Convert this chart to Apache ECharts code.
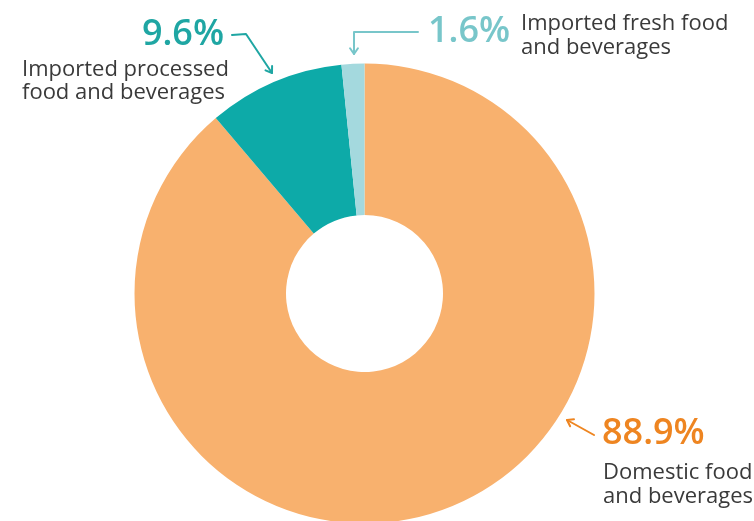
<!DOCTYPE html>
<html>
<head>
<meta charset="utf-8">
<script src="https://cdn.jsdelivr.net/npm/echarts@6/dist/echarts.min.js"></script>
<style>
  html, body { margin: 0; padding: 0; background: #ffffff; }
  #chart { width: 754px; height: 521px; }
</style>
</head>
<body>
<div id="chart"></div>
<script>
// Share of food and beverages by origin (percent)
const categories = [
  ['Domestic food', 'and beverages'],
  ['Imported processed', 'food and beverages'],
  ['Imported fresh food', 'and beverages']
];
const shares = [88.9, 9.6, 1.6];
const sliceColors = ['#F8B16E', '#0DAAA8', '#A4D9DE'];
const valueColors = ['#EE8521', '#1FA6A3', '#78C6CA'];

const FONT = '"Open Sans", "Noto Sans", sans-serif';
const pct = v => v.toFixed(1) + '%';

const chart = echarts.init(document.getElementById('chart'), null, { renderer: 'canvas' });

function txt(text, x, y, size, weight, color, align) {
  return {
    type: 'text', silent: true,
    style: {
      text: text, x: x, y: y,
      fontFamily: FONT, fontSize: size, fontWeight: weight,
      fill: color, textAlign: align || 'left', textVerticalAlign: 'middle'
    }
  };
}
function line(points, color) {
  return {
    type: 'polyline', silent: true,
    shape: { points: points },
    style: { stroke: color, lineWidth: 2, fill: null, lineCap: 'round', lineJoin: 'round' }
  };
}
// small open arrowhead at tip (tx,ty) pointing along the direction from (fx,fy)
function head(fx, fy, tx, ty, color) {
  const a = Math.atan2(ty - fy, tx - fx), L = 7, w = 0.6;
  return line([
    [tx - L * Math.cos(a - w), ty - L * Math.sin(a - w)],
    [tx, ty],
    [tx - L * Math.cos(a + w), ty - L * Math.sin(a + w)]
  ], color);
}

const labelSize = 22, valueSize = 36, valueWeight = 600, dark = '#3A3A3A';

const graphics = [
  // Imported processed
  txt(pct(shares[1]), 224, 35, valueSize, valueWeight, valueColors[1], 'right'),
  txt(categories[1][0], 22, 70, labelSize, 'normal', dark),
  txt(categories[1][1], 22, 93, labelSize, 'normal', dark),
  line([[232, 35], [246, 34], [272, 73]], valueColors[1]),
  head(246, 34, 272, 73, valueColors[1]),
  // Imported fresh
  txt(pct(shares[2]), 428, 32, valueSize, valueWeight, valueColors[2]),
  txt(categories[2][0], 521, 24, labelSize, 'normal', dark),
  txt(categories[2][1], 521, 48, labelSize, 'normal', dark),
  line([[418, 32], [354, 32], [354, 54]], valueColors[2]),
  head(354, 32, 354, 54, valueColors[2]),
  // Domestic
  txt(pct(shares[0]), 602, 434, valueSize, valueWeight, valueColors[0]),
  txt(categories[0][0], 603, 473, labelSize, 'normal', dark),
  txt(categories[0][1], 603, 497, labelSize, 'normal', dark),
  line([[594, 435], [567, 420]], valueColors[0]),
  head(594, 435, 567, 420, valueColors[0])
];

chart.setOption({
  backgroundColor: '#ffffff',
  animation: false,
  series: [{
    type: 'pie',
    center: [364.5, 293.5],
    radius: [78.5, 230],
    startAngle: 90,
    clockwise: true,
    label: { show: false },
    labelLine: { show: false },
    emphasis: { disabled: true },
    data: shares.map((v, i) => ({
      name: categories[i].join(' '),
      value: v,
      itemStyle: { color: sliceColors[i] }
    }))
  }],
  graphic: graphics
});
</script>
</body>
</html>
